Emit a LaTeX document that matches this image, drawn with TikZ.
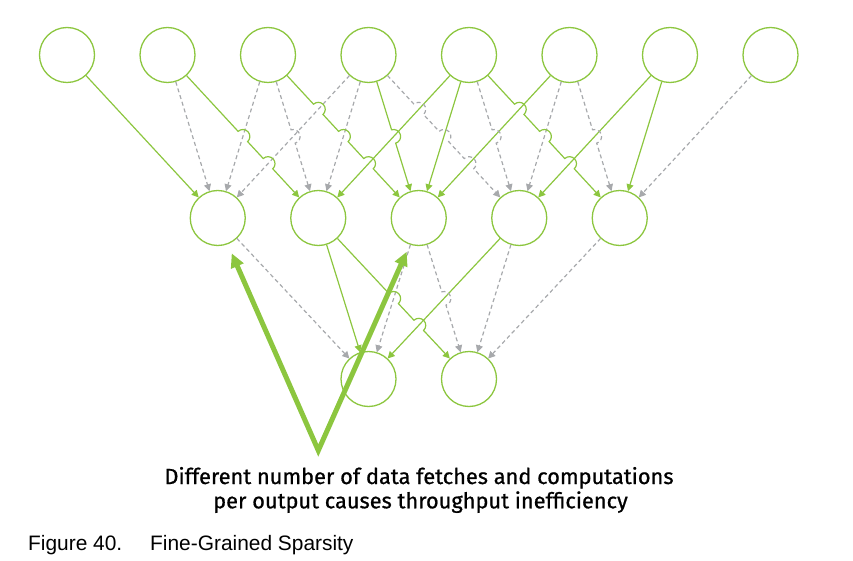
\documentclass[tikz,border=0pt]{standalone}
\usepackage{fontspec}
\setmainfont{Liberation Sans}
\newfontfamily\notefont[FakeBold=0.8]{Fira Sans}
\usetikzlibrary{calc,arrows.meta}
\definecolor{ngreen}{HTML}{8CC63F}
\definecolor{ngray}{HTML}{A7A9AC}
\newcommand\rr{28pt}
\newcommand\hr{7pt}
\tikzset{
  neuron/.style={circle, draw=ngreen, line width=1.3pt, minimum size=55pt, inner sep=0pt},
  gedge/.style={color=ngreen, line width=1.2pt, -{Triangle[length=7pt,width=7pt]}},
  dedge/.style={color=ngray, line width=1.2pt, dash pattern=on 4pt off 3pt, -{Triangle[length=7pt,width=7pt]}},
  bigarrow/.style={color=ngreen, line width=5pt, line join=miter,
    {Triangle[length=14pt,width=13pt]}-{Triangle[length=14pt,width=13pt]}},
  note/.style={font=\notefont\fontsize{21.8pt}{24pt}\selectfont, text=black, anchor=base, inner sep=0pt},
  caption/.style={font=\fontsize{20.9pt}{24pt}\selectfont, text=black, anchor=base west, inner sep=0pt}
}
\newcommand\plainedge[3]{\draw[#1] ($(#2)!\rr!(#3)$) -- ($(#3)!\rr!(#2)$);}
\newcommand\hopedge[4]{%
  \draw[#1] let \p1=($(#3)-(#2)$), \n1={atan2(\y1,\x1)}, \n2={atan2(\y1,\x1)+180} in
    ($(#2)!\rr!(#3)$)
    \foreach \s in {#4} { -- ($(#2)!\s!(#3)!\hr!(#2)$) arc[start angle=\n2, end angle=\n1, radius=\hr] }
    -- ($(#3)!\rr!(#2)$);}
\begin{document}
\begin{tikzpicture}[x=1pt,y=1pt]
\useasboundingbox (0,0) rectangle (853,-561);
% top layer
\foreach \i/\x in {0/67,1/167.5,2/268,3/368.5,4/469,5/569.5,6/670,7/770.5}
  \node[neuron] (T\i) at (\x,-55) {};
% middle layer
\foreach \i/\x in {0/217.75,1/318.25,2/418.75,3/519.25,4/619.75}
  \node[neuron] (M\i) at (\x,-218) {};
% bottom layer
\node[neuron] (B0) at (368.5,-379) {};
\node[neuron] (B1) at (469,-379) {};
% top -> middle, leftward edges
\plainedge{dedge}{T2}{M0}
\plainedge{dedge}{T3}{M0}
\plainedge{dedge}{T3}{M1}
\plainedge{gedge}{T4}{M1}
\plainedge{gedge}{T4}{M2}
\plainedge{gedge}{T5}{M2}
\plainedge{dedge}{T5}{M3}
\plainedge{gedge}{T6}{M3}
\plainedge{gedge}{T6}{M4}
\plainedge{dedge}{T7}{M4}
% top -> middle, rightward edges
\plainedge{gedge}{T0}{M0}
\plainedge{dedge}{T1}{M0}
\hopedge{gedge}{T1}{M1}{0.5,0.6667}
\hopedge{dedge}{T2}{M1}{0.5}
\hopedge{gedge}{T2}{M2}{0.3333,0.5,0.6667}
\hopedge{gedge}{T3}{M2}{0.5}
\hopedge{dedge}{T3}{M3}{0.3333,0.5,0.6667}
\hopedge{dedge}{T4}{M3}{0.5}
\hopedge{gedge}{T4}{M4}{0.3333,0.5,0.6667}
\hopedge{dedge}{T5}{M4}{0.5}
% middle -> bottom
\plainedge{dedge}{M2}{B0}
\plainedge{gedge}{M3}{B0}
\plainedge{dedge}{M3}{B1}
\plainedge{dedge}{M4}{B1}
\plainedge{dedge}{M0}{B0}
\plainedge{gedge}{M1}{B0}
\hopedge{gedge}{M1}{B1}{0.5,0.6667}
\hopedge{dedge}{M2}{B1}{0.5}
% big callout arrows
\coordinate (tipL) at (231.7,-253.3);
\coordinate (tipR) at (406.7,-251.7);
\coordinate (apex) at (318.3,-450.5);
\draw[bigarrow] (tipL) -- (apex) -- (tipR);
% texts
\node[note] (msg1) at (419,-484) {Different number of data fetches and computations};
\node[note] (msg2) at (420.5,-508.3) {per output causes throughput inefficiency};
\node[caption] (cap1) at (28,-550) {Figure 40.};
\node[caption] (cap2) at (150,-550) {Fine-Grained Sparsity};
\end{tikzpicture}
\end{document}
